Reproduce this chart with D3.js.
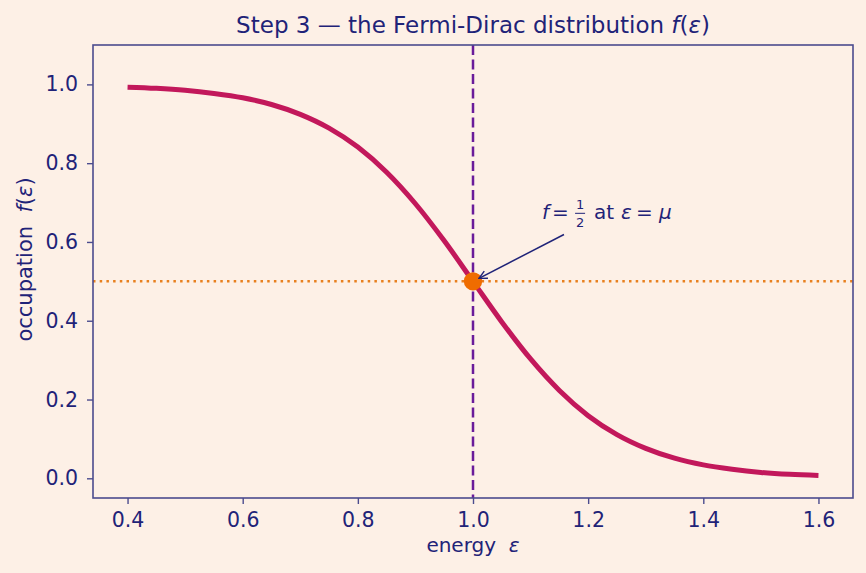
<!DOCTYPE html>
<html>
<head>
<meta charset="utf-8">
<script src="https://cdn.jsdelivr.net/npm/d3@7"></script>
<style>
  body { margin: 0; background: #fdf0e6; }
  svg { display: block; font-family: "DejaVu Sans", sans-serif; }
</style>
</head>
<body>
<svg width="866" height="573"></svg>
<script>
// Values (energy vs occupation)
const energy = [0.40, 0.45, 0.50, 0.55, 0.60, 0.65, 0.70, 0.75, 0.80, 0.85, 0.90, 0.95, 1.00,
                1.05, 1.10, 1.15, 1.20, 1.25, 1.30, 1.35, 1.40, 1.45, 1.50, 1.55, 1.60];
const occupation = [0.993, 0.990, 0.985, 0.977, 0.966, 0.949, 0.924, 0.889, 0.841, 0.777, 0.697, 0.603, 0.500,
                    0.397, 0.303, 0.223, 0.159, 0.111, 0.076, 0.051, 0.034, 0.023, 0.015, 0.010, 0.007];
const xTicks = [0.4, 0.6, 0.8, 1.0, 1.2, 1.4, 1.6];
const yTicks = [0.0, 0.2, 0.4, 0.6, 0.8, 1.0];
const mu = 1.0;
const halfLevel = 0.5;

const textColor = "#1f2378";
const spineColor = "#4b4c8e";

const svg = d3.select("svg");
const margin = {top: 45, right: 13, bottom: 75, left: 93};
const width = +svg.attr("width");
const height = +svg.attr("height");

svg.append("rect").attr("width", width).attr("height", height).attr("fill", "#fdf0e6");

const x = d3.scaleLinear().domain([0.34, 1.66]).range([margin.left, width - margin.right]);
const y = d3.scaleLinear().domain([-0.05, 1.1]).range([height - margin.bottom, margin.top]);

// axes
const xAxis = svg.append("g")
    .attr("transform", `translate(0,${height - margin.bottom})`)
    .call(d3.axisBottom(x).tickValues(xTicks).tickFormat(d3.format(".1f")).tickSize(6).tickPadding(8));
const yAxis = svg.append("g")
    .attr("transform", `translate(${margin.left},0)`)
    .call(d3.axisLeft(y).tickValues(yTicks).tickFormat(d3.format(".1f")).tickSize(6).tickPadding(9));

[xAxis, yAxis].forEach(a => {
  a.select(".domain").remove();
  a.selectAll(".tick line").attr("stroke", spineColor).attr("stroke-width", 1.4);
  a.selectAll(".tick text").attr("fill", textColor).attr("font-size", 20.5)
    .attr("font-family", "DejaVu Sans");
});

// reference lines
svg.append("line")
    .attr("x1", x(mu)).attr("x2", x(mu))
    .attr("y1", y(1.1)).attr("y2", y(-0.05))
    .attr("stroke", "#6a1b9a").attr("stroke-width", 2.5)
    .attr("stroke-dasharray", "10,4.5");

svg.append("line")
    .attr("x1", x(0.34)).attr("x2", x(1.66))
    .attr("y1", y(halfLevel)).attr("y2", y(halfLevel))
    .attr("stroke", "#e8801f").attr("stroke-width", 2.5)
    .attr("stroke-dasharray", "2.5,4.2");

// curve
const line = d3.line()
    .x((d, i) => x(energy[i]))
    .y((d, i) => y(occupation[i]))
    .curve(d3.curveMonotoneX);

svg.append("path")
    .datum(occupation)
    .attr("d", line)
    .attr("fill", "none")
    .attr("stroke", "#c2185b")
    .attr("stroke-width", 5)
    .attr("stroke-linecap", "butt");

// marker at f = 1/2
svg.append("circle")
    .attr("cx", x(mu)).attr("cy", y(halfLevel))
    .attr("r", 9.2)
    .attr("fill", "#ef6c00");

// annotation arrow
svg.append("defs").append("marker")
    .attr("id", "head")
    .attr("viewBox", "0 0 10 10")
    .attr("refX", 9).attr("refY", 5)
    .attr("markerWidth", 10).attr("markerHeight", 10)
    .attr("markerUnits", "userSpaceOnUse")
    .attr("orient", "auto")
  .append("path")
    .attr("d", "M1,1 L9,5 L1,9")
    .attr("fill", "none")
    .attr("stroke", textColor)
    .attr("stroke-width", 1.4);

svg.append("line")
    .attr("x1", x(1.158)).attr("y1", y(0.619))
    .attr("x2", x(1.0) + 6).attr("y2", y(0.5) - 3)
    .attr("stroke", textColor).attr("stroke-width", 1.5)
    .attr("marker-end", "url(#head)");

// annotation text: f = 1/2 at eps = mu
const ann = svg.append("g")
    .attr("transform", `translate(${x(1.12)},${y(0.66) + 1})`)
    .attr("fill", textColor)
    .attr("font-size", 20);
ann.append("text").attr("x", 0).attr("font-style", "italic").text("f");
ann.append("text").attr("x", 10).text("=");
ann.append("text").attr("x", 38).attr("y", -10).attr("font-size", 13)
    .attr("text-anchor", "middle").text("1");
ann.append("line").attr("x1", 33).attr("x2", 43).attr("y1", -6).attr("y2", -6)
    .attr("stroke", textColor).attr("stroke-width", 1);
ann.append("text").attr("x", 38).attr("y", 8).attr("font-size", 13)
    .attr("text-anchor", "middle").text("2");
ann.append("text").attr("x", 52).text("at");
ann.append("text").attr("x", 79).attr("font-style", "italic").text("ε");
ann.append("text").attr("x", 94).text("=");
ann.append("text").attr("x", 117).attr("font-style", "italic").text("μ");

// frame
svg.append("rect")
    .attr("x", margin.left).attr("y", margin.top)
    .attr("width", width - margin.left - margin.right)
    .attr("height", height - margin.bottom - margin.top)
    .attr("fill", "none")
    .attr("stroke", spineColor)
    .attr("stroke-width", 1.6);

// title and axis labels
svg.append("text")
    .attr("x", (margin.left + width - margin.right) / 2).attr("y", 33)
    .attr("text-anchor", "middle").attr("font-size", 23).attr("fill", textColor)
    .call(t => {
      t.append("tspan").text("Step 3 — the Fermi-Dirac distribution ");
      t.append("tspan").attr("font-style", "italic").text("f");
      t.append("tspan").text("(");
      t.append("tspan").attr("font-style", "italic").text("ε");
      t.append("tspan").text(")");
    });

svg.append("text")
    .attr("x", (margin.left + width - margin.right) / 2).attr("y", 552)
    .attr("text-anchor", "middle").attr("font-size", 20).attr("fill", textColor)
    .attr("xml:space", "preserve")
    .call(t => {
      t.append("tspan").text("energy  ");
      t.append("tspan").attr("font-style", "italic").text("ε");
    });

svg.append("text")
    .attr("transform", `translate(32,${(margin.top + height - margin.bottom) / 2 - 12}) rotate(-90)`)
    .attr("text-anchor", "middle").attr("font-size", 21).attr("fill", textColor)
    .attr("xml:space", "preserve")
    .call(t => {
      t.append("tspan").text("occupation  ");
      t.append("tspan").attr("font-style", "italic").text("f");
      t.append("tspan").text("(");
      t.append("tspan").attr("font-style", "italic").text("ε");
      t.append("tspan").text(")");
    });
</script>
</body>
</html>
